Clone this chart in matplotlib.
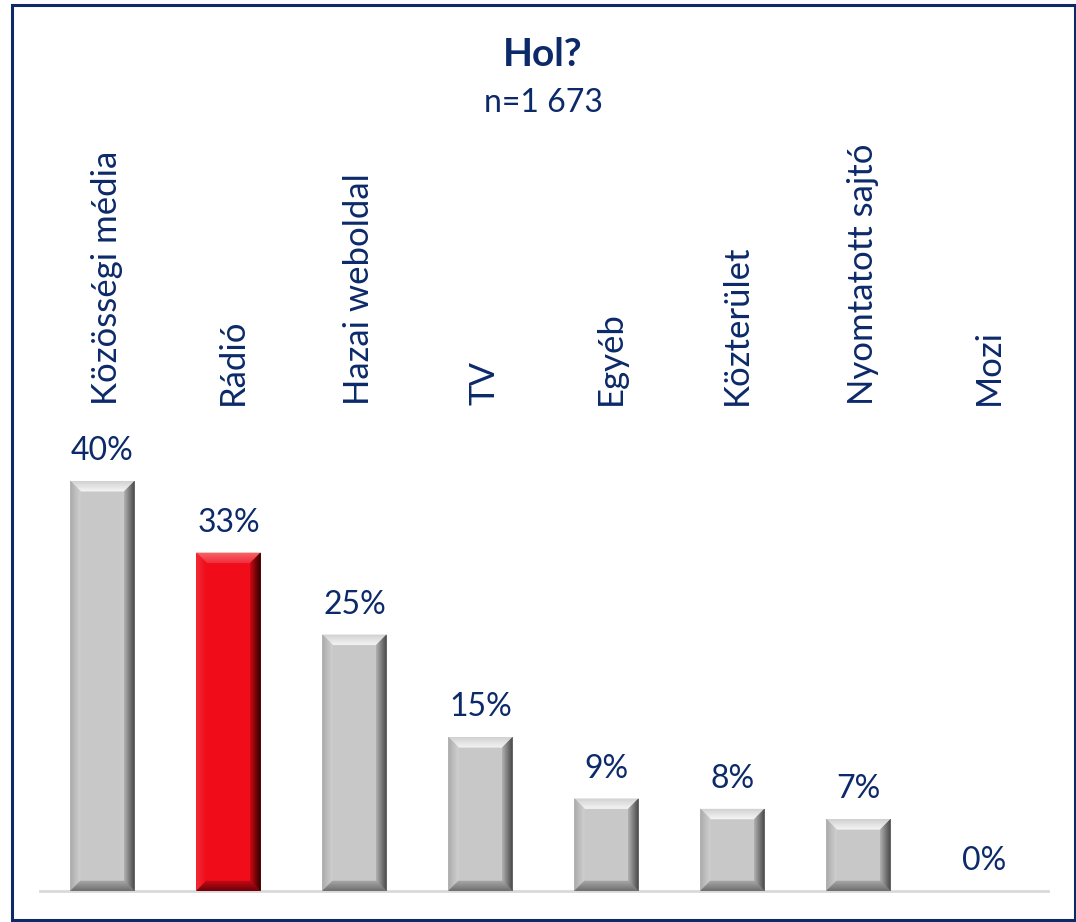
import matplotlib
matplotlib.use("Agg")
import matplotlib.pyplot as plt
from matplotlib.patches import Polygon, Rectangle
import numpy as np

# ---- data ----
categories = ["Közösségi média", "Rádió", "Hazai weboldal", "TV", "Egyéb",
              "Közterület", "Nyomtatott sajtó", "Mozi"]
values = [40, 33, 25, 15, 9, 8, 7, 0]
value_labels = ["40%", "33%", "25%", "15%", "9%", "8%", "7%", "0%"]
highlight = "Rádió"
title = "Hol?"
subtitle = "n=1 673"

# ---- style ----
plt.rcParams['font.family'] = ['Lato', 'DejaVu Sans']
NAVY = "#0C2A69"
W, H = 1076, 922
fig = plt.figure(figsize=(W / 100, H / 100), dpi=100)

ax_left_px, ax_right_px = 39.5, 1047.5
ax_bottom_px, ax_top_px = 891, 140
ax = fig.add_axes([ax_left_px / W, 1 - ax_bottom_px / H,
                   (ax_right_px - ax_left_px) / W, (ax_bottom_px - ax_top_px) / H])
x = np.arange(len(categories))
ax.set_xlim(-0.5, len(categories) - 0.5)
ax.set_ylim(0, 73.3)
bar_w = 0.508

colors = ["#F00C19" if c == highlight else "#C8C8C8" for c in categories]
bars = ax.bar(x, values, width=bar_w, color=colors, edgecolor="none", zorder=2)

# pixel -> data scale
ppx = (ax.get_xlim()[1] - ax.get_xlim()[0]) / (ax_right_px - ax_left_px)
ppy = (ax.get_ylim()[1] - ax.get_ylim()[0]) / (ax_bottom_px - ax_top_px)


def mix(c1, c2, t):
    c1 = np.array(matplotlib.colors.to_rgb(c1))
    c2 = np.array(matplotlib.colors.to_rgb(c2))
    return tuple(c1 * (1 - t) + c2 * t)


def grad_trap(o1, o2, i1, i2, c_out, c_in, n=10):
    o1, o2, i1, i2 = map(np.array, (o1, o2, i1, i2))
    for k in range(n):
        t0, t1 = k / n, (k + 1) / n
        a1 = o1 + (i1 - o1) * t0
        a2 = o2 + (i2 - o2) * t0
        b1 = o1 + (i1 - o1) * t1
        b2 = o2 + (i2 - o2) * t1
        col = mix(c_out, c_in, (t0 + t1) / 2)
        ax.add_patch(Polygon([a1, a2, b2, b1], closed=True, facecolor=col,
                             edgecolor=col, linewidth=0.3, zorder=3))


for b, c in zip(bars, categories):
    h = b.get_height()
    if h <= 0:
        continue
    x0 = b.get_x()
    x1 = x0 + b.get_width()
    bx = 10 * ppx
    by = min(10 * ppy, h / 2)
    top = h
    if c == highlight:
        top_c = ("#F46A6A", "#F33040")
        left_c = ("#F0303A", "#F00C19")
        right_c = ("#1A0000", "#C00810")
        bot_c = ("#6A0008", "#C00812")
    else:
        top_c = ("#D2D2D2", "#F6F6F6")
        left_c = ("#A8A8A8", "#D0D0D0")
        right_c = ("#3A3A3A", "#A8A8A8")
        bot_c = ("#6C6C6C", "#A4A4A4")
    grad_trap((x0, top), (x1, top), (x0 + bx, top - by), (x1 - bx, top - by), *top_c)
    grad_trap((x0, top), (x0, 0), (x0 + bx, top - by), (x0 + bx, by), *left_c)
    grad_trap((x1, top), (x1, 0), (x1 - bx, top - by), (x1 - bx, by), *right_c)
    grad_trap((x0, 0), (x1, 0), (x0 + bx, by), (x1 - bx, by), *bot_c)

# value labels
for xi, v, lab in zip(x, values, value_labels):
    ax.annotate(lab, (xi, v), xytext=(0, 21), textcoords="offset pixels",
                ha="center", va="baseline", fontsize=23, color=NAVY, zorder=4)

# category labels (rotated, above the plot)
for xi, c in zip(x, categories):
    ax.text(xi + 0.035, (ax_bottom_px - 405) / (ax_bottom_px - ax_top_px), c,
            transform=ax.get_xaxis_transform(), rotation=90, ha="center",
            va="bottom", fontsize=25, color=NAVY)

# axes styling
for s in ["top", "left", "right"]:
    ax.spines[s].set_visible(False)
ax.spines["bottom"].set_color("#D9D9D9")
ax.spines["bottom"].set_linewidth(2)
ax.set_xticks([])
ax.set_yticks([])
ax.patch.set_alpha(0)

# titles
fig.text(543 / W, 1 - 54 / H, title, ha="center", va="center",
         fontsize=28, fontweight="bold", color=NAVY)
fig.text(543 / W, 1 - 103 / H, subtitle, ha="center", va="center",
         fontsize=23, color=NAVY)

# outer border
fig.patches.append(Rectangle((11.5 / W, 1 - 920 / H), (1074.5 - 11.5) / W,
                             (920 - 5.5) / H, transform=fig.transFigure,
                             fill=False, edgecolor="#0E2A66", linewidth=2.2))

fig.savefig("out.png", dpi=100)
